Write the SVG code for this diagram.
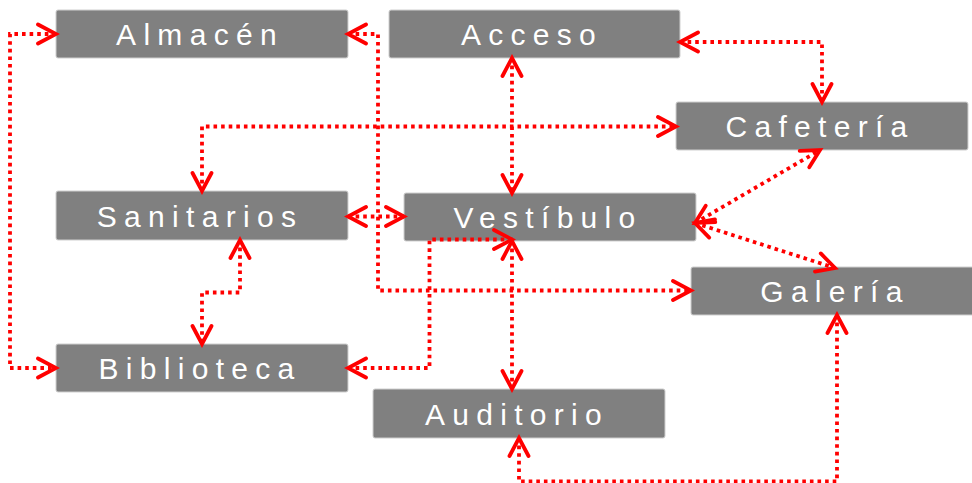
<svg xmlns="http://www.w3.org/2000/svg" width="972" height="483" viewBox="0 0 972 483">
<defs>
<style>
.box{fill:#808080;stroke:#cfcfcf;stroke-width:1}
.lbl{font-family:"Liberation Sans",Arial,sans-serif;font-size:30px;fill:#ffffff;letter-spacing:7.3px;text-anchor:middle}
.c{fill:none;stroke:#ff0000;stroke-width:3.8;stroke-dasharray:3.6 4;marker-start:url(#ah);marker-end:url(#ah)}
</style>
<marker id="ah" markerUnits="userSpaceOnUse" viewBox="-22 -13 26 26" refX="0" refY="0" markerWidth="26" markerHeight="26" orient="auto-start-reverse">
<path d="M-18,-9.5 L0,0 L-18,9.5" fill="none" stroke="#ff0000" stroke-width="3.8" stroke-linecap="round" stroke-linejoin="miter"/>
</marker>
</defs>
<rect width="972" height="483" fill="#ffffff"/>
<g id="almacen"><rect class="box" x="56" y="10" width="292" height="48" rx="2"/><text class="lbl" x="200" y="45">Almacén</text></g>
<g id="acceso"><rect class="box" x="389" y="10" width="291" height="48" rx="2"/><text class="lbl" x="532" y="45">Acceso</text></g>
<g id="cafeteria"><rect class="box" x="676" y="102" width="292" height="48" rx="2"/><text class="lbl" x="820" y="137">Cafetería</text></g>
<g id="sanitarios"><rect class="box" x="56" y="191" width="292" height="49" rx="2"/><text class="lbl" x="200" y="227">Sanitarios</text></g>
<g id="vestibulo"><rect class="box" x="404" y="193" width="292" height="48" rx="2"/><text class="lbl" x="548" y="228">Vestíbulo</text></g>
<g id="galeria"><rect class="box" x="691" y="267" width="292" height="48" rx="2"/><text class="lbl" x="835" y="302">Galería</text></g>
<g id="biblioteca"><rect class="box" x="56" y="344" width="292" height="48" rx="2"/><text class="lbl" x="200" y="379">Biblioteca</text></g>
<g id="auditorio"><rect class="box" x="373" y="389" width="292" height="49" rx="2"/><text class="lbl" x="517" y="425">Auditorio</text></g>
<g id="connectors">
<path class="c" d="M56,34 H10 V368 H56"/>
<path class="c" d="M348,34 H378 V290.5 H691"/>
<path class="c" d="M680,42 H822 V102"/>
<path class="c" d="M512,58 V193"/>
<path class="c" d="M202,191 V126.5 H676"/>
<path class="c" d="M348,216.5 H404"/>
<path class="c" d="M240,240 V292.5 H202 V344"/>
<path class="c" d="M348,368 H429.5 V239.5 H512"/>
<path class="c" d="M512,241 V389"/>
<path class="c" d="M695,223 L820,150"/>
<path class="c" d="M695,223 L835,268"/>
<path class="c" d="M519,438 V481.5 H837 V315"/>
</g>
</svg>
